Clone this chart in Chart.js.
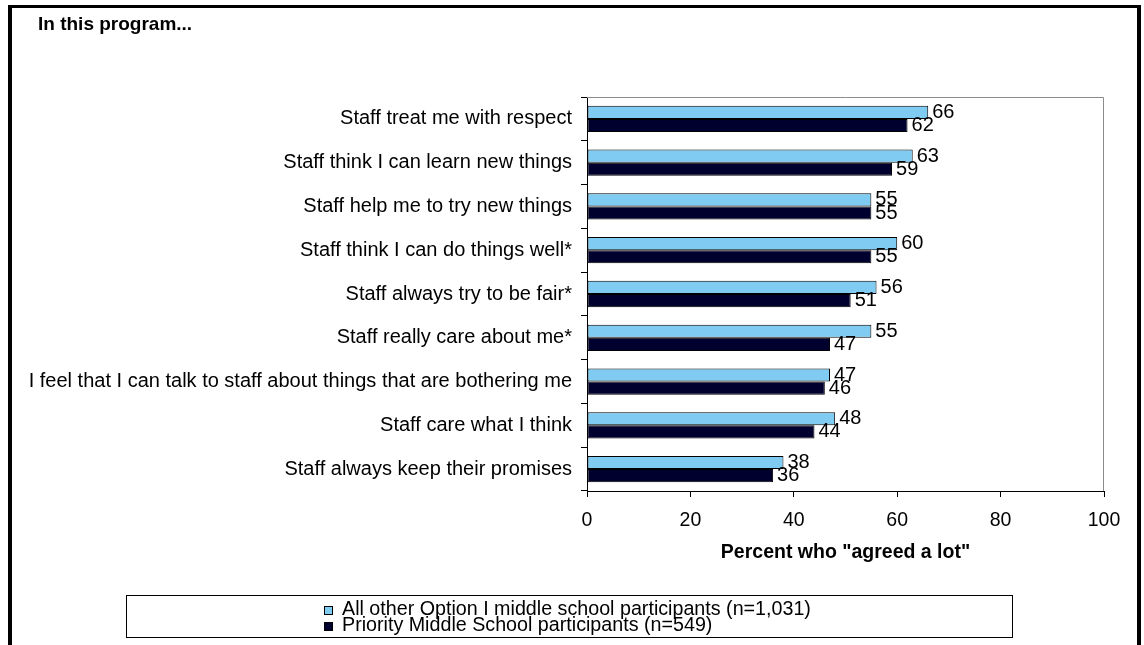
<!DOCTYPE html>
<html>
<head>
<meta charset="utf-8">
<script src="https://cdn.jsdelivr.net/npm/chart.js@4.4.1/dist/chart.umd.min.js"></script>
<style>
  html, body { margin: 0; padding: 0; background: #fff; }
  canvas { display: block; }
</style>
</head>
<body>
<canvas id="staffChart" width="1144" height="645"></canvas>
<script>
const categories = [
  'Staff treat me with respect',
  'Staff think I can learn new things',
  'Staff help me to try new things',
  'Staff think I can do things well*',
  'Staff always try to be fair*',
  'Staff really care about me*',
  'I feel that I can talk to staff about things that are bothering me',
  'Staff care what I think',
  'Staff always keep their promises'
];
const allOtherValues = [66, 63, 55, 60, 56, 55, 47, 48, 38];
const priorityValues = [62, 59, 55, 55, 51, 47, 46, 44, 36];
const xTickValues = [0, 20, 40, 60, 80, 100];

const seriesNames = [
  'All other Option I middle school participants (n=1,031)',
  'Priority Middle School participants (n=549)'
];
const seriesColors = ['#7fcbf1', '#00002e'];

const FONT = "'Liberation Sans', Arial, sans-serif";

// frame, title, plot border, value labels and legend box
const decorations = {
  id: 'decorations',
  afterDatasetsDraw(chart) {
    const ctx = chart.ctx;
    ctx.save();
    ctx.font = '20px ' + FONT;
    ctx.fillStyle = '#000';
    ctx.textAlign = 'left';
    ctx.textBaseline = 'middle';
    chart.data.datasets.forEach((ds, i) => {
      const meta = chart.getDatasetMeta(i);
      meta.data.forEach((bar, j) => {
        ctx.fillText(String(ds.data[j]), bar.x + 4, bar.y);
      });
    });
    ctx.restore();
  },
  afterDraw(chart) {
    const ctx = chart.ctx;
    const area = chart.chartArea;
    ctx.save();

    // gray top and right edge of plot
    ctx.strokeStyle = '#8c8c8c';
    ctx.lineWidth = 1;
    ctx.beginPath();
    ctx.moveTo(area.left, area.top + 0.5);
    ctx.lineTo(area.right - 0.5, area.top + 0.5);
    ctx.lineTo(area.right - 0.5, area.bottom);
    ctx.stroke();

    // outer black frame (no bottom edge)
    ctx.fillStyle = '#000';
    ctx.fillRect(8, 5, 4, 640);
    ctx.fillRect(8, 5, 1133, 3);
    ctx.fillRect(1137, 5, 4, 640);

    // title
    ctx.font = 'bold 19px ' + FONT;
    ctx.textAlign = 'left';
    ctx.textBaseline = 'alphabetic';
    ctx.fillText('In this program...', 38, 30);

    // legend
    ctx.strokeStyle = '#000';
    ctx.strokeRect(126.5, 595.5, 886, 42);
    ctx.font = '19.7px ' + FONT;
    ctx.textBaseline = 'middle';
    seriesNames.forEach((name, i) => {
      const y = 606 + i * 16;
      ctx.fillStyle = seriesColors[i];
      ctx.fillRect(324, y, 9, 9);
      ctx.strokeStyle = '#000';
      ctx.strokeRect(324.5, y + 0.5, 8, 8);
      ctx.fillStyle = '#000';
      ctx.fillText(name, 342, y + 4);
    });
    ctx.restore();
  }
};

const data = {
  labels: categories,
  datasets: [
    {
      label: seriesNames[0],
      data: allOtherValues,
      backgroundColor: seriesColors[0],
      borderColor: '#000',
      borderWidth: 1,
      borderSkipped: false
    },
    {
      label: seriesNames[1],
      data: priorityValues,
      backgroundColor: seriesColors[1],
      borderColor: '#000',
      borderWidth: 1,
      borderSkipped: false
    }
  ]
};

const config = {
  type: 'bar',
  data: data,
  options: {
    indexAxis: 'y',
    responsive: false,
    animation: false,
    categoryPercentage: 0.6,
    barPercentage: 1.0,
    layout: {
      padding: { top: 97, right: 40, bottom: 80.6, left: 0 }
    },
    scales: {
      x: {
        min: xTickValues[0],
        max: xTickValues[xTickValues.length - 1],
        afterBuildTicks(scale) {
          scale.ticks = xTickValues.map(v => ({ value: v }));
        },
        afterFit(scale) {
          scale.height = 73.4;
        },
        grid: {
          drawOnChartArea: false,
          color: '#000',
          tickLength: 6
        },
        border: { color: '#000', width: 1 },
        ticks: {
          color: '#000',
          padding: 12,
          font: { family: FONT, size: 19.5 }
        },
        title: {
          display: true,
          text: 'Percent who "agreed a lot"',
          color: '#000',
          padding: { top: 0, bottom: 0 },
          font: { family: FONT, size: 19.5, weight: 'bold' }
        }
      },
      y: {
        afterFit(scale) {
          scale.width = 587;
        },
        grid: {
          drawOnChartArea: false,
          color: '#000',
          tickLength: 6
        },
        border: { color: '#000', width: 1 },
        ticks: {
          color: '#000',
          padding: 9,
          autoSkip: false,
          font: { family: FONT, size: 20 }
        }
      }
    },
    plugins: {
      legend: { display: false },
      tooltip: { enabled: false }
    }
  },
  plugins: [decorations]
};

const staffChart = new Chart(
  document.getElementById('staffChart'),
  config
);
</script>
</body>
</html>
